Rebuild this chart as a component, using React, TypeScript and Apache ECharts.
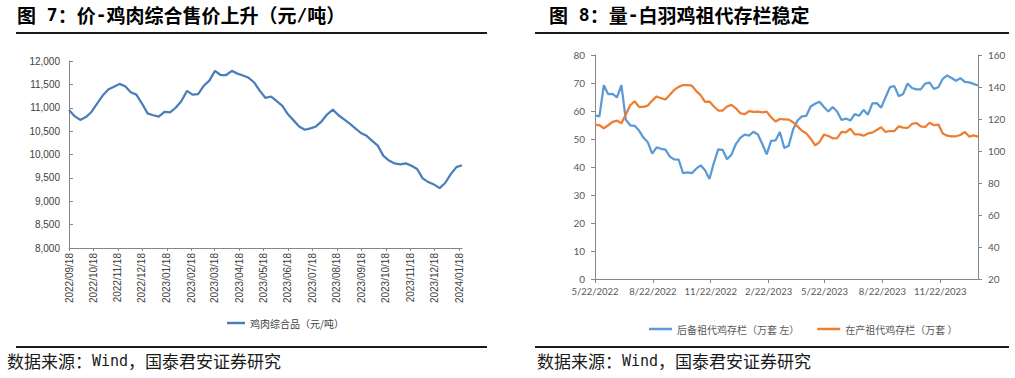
import React, { useEffect, useRef } from "react";
import * as echarts from "echarts";

// ---------- Data ----------
const chickenStart = "2022-09-18"; // weekly series
const chickenPrice = [
  10950, 10820, 10740, 10800, 10910, 11090, 11260, 11390, 11450, 11510,
  11460, 11330, 11280, 11090, 10880, 10840, 10810, 10910, 10900, 11000,
  11140, 11360, 11280, 11290, 11470, 11580, 11790, 11700, 11700, 11790,
  11730, 11690, 11640, 11540, 11360, 11210, 11240, 11140, 11040, 10860,
  10730, 10600, 10530, 10560, 10600, 10710, 10860, 10960, 10840, 10750,
  10660, 10560, 10460, 10400, 10290, 10190, 9970, 9870, 9810, 9790,
  9810, 9760, 9690, 9490, 9410, 9360, 9280, 9390, 9580, 9730,
  9770,
];
const chickenTicks = [
  "2022-09-18", "2022-10-18", "2022-11-18", "2022-12-18", "2023-01-18",
  "2023-02-18", "2023-03-18", "2023-04-18", "2023-05-18", "2023-06-18",
  "2023-07-18", "2023-08-18", "2023-09-18", "2023-10-18", "2023-11-18",
  "2023-12-18", "2024-01-18",
];
const chickenName = "鸡肉综合品（元/吨）";

const gpStart = "2022-05-22"; // weekly series
const reserveStock = [
  58.4, 58.1, 69.2, 66.0, 66.1, 64.9, 69.2, 56.9, 54.9, 54.7,
  53.0, 50.5, 48.8, 44.8, 47.0, 46.5, 46.2, 43.7, 42.7, 42.6,
  37.8, 38.1, 37.8, 39.4, 40.6, 38.8, 35.7, 41.5, 46.3, 46.1,
  42.8, 44.4, 48.2, 50.4, 51.6, 51.2, 52.6, 51.6, 48.2, 44.5,
  49.3, 49.5, 52.5, 46.8, 47.6, 53.4, 56.6, 58.1, 58.3, 61.6,
  62.6, 63.3, 61.4, 59.8, 61.4, 59.8, 56.8, 57.3, 56.6, 58.9,
  58.3, 60.4, 58.7, 62.7, 62.8, 61.2, 64.9, 68.5, 68.9, 65.3,
  66.1, 69.8, 68.2, 67.7, 67.7, 69.8, 70.1, 67.9, 68.5, 71.5,
  72.7, 71.8, 70.8, 71.7, 70.4, 70.2, 69.7, 69.1,
];
const productiveStock = [
  116.3, 116.1, 114.2, 116.1, 118.2, 119.0, 117.3, 122.8, 128.6, 131.1,
  127.6, 127.6, 128.4, 131.5, 134.1, 133.0, 132.2, 135.1, 138.2, 140.1,
  141.2, 141.2, 140.8, 137.4, 134.9, 130.7, 130.9, 127.8, 125.3, 125.3,
  127.8, 128.8, 126.7, 123.6, 123.0, 124.9, 124.4, 124.6, 124.2, 124.6,
  121.1, 118.4, 120.0, 119.8, 119.6, 118.0, 115.4, 112.7, 111.0, 107.7,
  103.5, 105.6, 110.2, 109.4, 107.9, 108.1, 111.9, 111.7, 114.0, 110.4,
  110.4, 109.6, 111.0, 111.5, 113.1, 114.8, 111.9, 112.5, 112.5, 115.4,
  114.6, 114.4, 116.9, 117.5, 115.4, 115.0, 117.7, 116.1, 116.5, 111.0,
  109.6, 109.2, 109.2, 110.0, 111.9, 109.0, 109.8, 109.0,
];
const gpTicks = [
  "2022-05-22", "2022-08-22", "2022-11-22", "2023-02-22",
  "2023-05-22", "2023-08-22", "2023-11-22",
];
const reserveName = "后备祖代鸡存栏（万套 左）";
const productiveName = "在产祖代鸡存栏（万套 ）";

// ---------- Helpers ----------
const DAY = 86400000;
function toTs(s: string): number {
  const [y, m, d] = s.split("-").map(Number);
  return new Date(y, m - 1, d).getTime();
}
function weekly(start: string, values: number[]): [number, number][] {
  const t0 = toTs(start);
  return values.map((v, i) => [t0 + i * 7 * DAY, v]);
}
const pad = (n: number) => (n < 10 ? "0" + n : "" + n);

export default function App() {
  const ref = useRef<HTMLDivElement>(null);
  useEffect(() => {
    if (!ref.current) return;
    const chart = echarts.init(ref.current, undefined, { renderer: "svg" });
    const chickenData = weekly(chickenStart, chickenPrice);
    const reserveData = weekly(gpStart, reserveStock);
    const productiveData = weekly(gpStart, productiveStock);
    const leftFont = "Liberation Sans";
    const rightFont = "Lato";
    const cjk = "Noto Sans CJK SC";

    const footerStyle = {
      text: "数据来源：{m|Wind}，国泰君安证券研究",
      fontSize: 17,
      fontFamily: cjk,
      fill: "#1a1a1a",
      rich: { m: { fontSize: 15, fontFamily: "DejaVu Sans Mono", fill: "#1a1a1a" } },
    };
    const titleRich = {
      m: { fontSize: 18, fontFamily: "DejaVu Sans Mono", fontWeight: "bold", fill: "#000" },
    };

    const option: any = {
      animation: false,
      backgroundColor: "#ffffff",
      grid: [
        { left: 69, right: 1015 - 462, top: 61, bottom: 378 - 248 },
        { left: 595, right: 1015 - 978, top: 55, bottom: 378 - 279 },
      ],
      legend: [
        {
          data: [chickenName],
          left: 222,
          top: 313,
          icon: "rect",
          itemWidth: 18,
          itemHeight: 2.5,
          textStyle: { fontSize: 10, color: "#404040", fontFamily: cjk },
        },
        {
          data: [reserveName, productiveName],
          left: 644,
          top: 319,
          icon: "rect",
          itemWidth: 23,
          itemHeight: 2.5,
          itemGap: 18,
          textStyle: { fontSize: 10, color: "#595959", fontFamily: cjk },
        },
      ],
      xAxis: [
        {
          type: "value",
          gridIndex: 0,
          min: toTs(chickenStart),
          max: chickenData[chickenData.length - 1][0],
          splitLine: { show: false },
          axisLine: { lineStyle: { color: "#868686", width: 1 } },
          axisTick: {
            show: true,
            length: 3,
            customValues: chickenTicks.map(toTs),
            lineStyle: { color: "#868686" },
          },
          axisLabel: {
            customValues: chickenTicks.map(toTs),
            rotate: 90,
            margin: 5,
            fontSize: 10,
            color: "#404040",
            fontFamily: leftFont,
            formatter: (v: number) => {
              const d = new Date(v);
              return `${d.getFullYear()}/${pad(d.getMonth() + 1)}/${pad(d.getDate())}`;
            },
          },
        },
        {
          type: "value",
          gridIndex: 1,
          min: toTs(gpStart),
          max: reserveData[reserveData.length - 1][0],
          splitLine: { show: false },
          axisLine: { lineStyle: { color: "#868686", width: 1 } },
          axisTick: {
            show: true,
            length: 4,
            customValues: gpTicks.map(toTs),
            lineStyle: { color: "#868686" },
          },
          axisLabel: {
            customValues: gpTicks.map(toTs),
            margin: 7,
            fontSize: 9.5,
            color: "#595959",
            fontFamily: rightFont,
            formatter: (v: number) => {
              const d = new Date(v);
              return `${d.getMonth() + 1}/${d.getDate()}/${d.getFullYear()}`;
            },
          },
        },
      ],
      yAxis: [
        {
          type: "value",
          gridIndex: 0,
          min: 8000,
          max: 12000,
          interval: 500,
          splitLine: { show: false },
          axisLine: { show: true, lineStyle: { color: "#868686", width: 1 } },
          axisTick: { show: true, inside: true, length: 4, lineStyle: { color: "#868686" } },
          axisLabel: {
            margin: 9,
            fontSize: 10,
            color: "#404040",
            fontFamily: leftFont,
            formatter: (v: number) => v.toLocaleString("en-US"),
          },
        },
        {
          type: "value",
          gridIndex: 1,
          min: 0,
          max: 80,
          interval: 10,
          splitLine: { show: false },
          axisLine: { show: true, lineStyle: { color: "#868686", width: 1 } },
          axisTick: { show: true, length: 4, lineStyle: { color: "#868686" } },
          axisLabel: { margin: 10, fontSize: 10, color: "#595959", fontFamily: rightFont },
        },
        {
          type: "value",
          gridIndex: 1,
          position: "right",
          min: 20,
          max: 160,
          interval: 20,
          splitLine: { show: false },
          axisLine: { show: true, lineStyle: { color: "#868686", width: 1 } },
          axisTick: { show: true, length: 4, lineStyle: { color: "#868686" } },
          axisLabel: { margin: 10, fontSize: 10, color: "#595959", fontFamily: rightFont },
        },
      ],
      series: [
        {
          name: chickenName,
          type: "line",
          xAxisIndex: 0,
          yAxisIndex: 0,
          data: chickenData,
          showSymbol: false,
          color: "#4A7EBB",
          lineStyle: { width: 2.25, color: "#4A7EBB" },
        },
        {
          name: reserveName,
          type: "line",
          xAxisIndex: 1,
          yAxisIndex: 1,
          data: reserveData,
          showSymbol: false,
          color: "#5B9BD5",
          lineStyle: { width: 2.25, color: "#5B9BD5" },
        },
        {
          name: productiveName,
          type: "line",
          xAxisIndex: 1,
          yAxisIndex: 2,
          data: productiveData,
          showSymbol: false,
          color: "#ED7D31",
          lineStyle: { width: 2.25, color: "#ED7D31" },
        },
      ],
      graphic: [
        {
          type: "text",
          left: 17,
          top: 5,
          style: {
            text: "图{m| 7}：价{m|-}鸡肉综合售价上升（元{m|/}吨）",
            fontSize: 19,
            fontWeight: "bold",
            fontFamily: cjk,
            fill: "#000",
            rich: titleRich,
          },
        },
        { type: "rect", shape: { x: 16, y: 32, width: 471, height: 2 }, style: { fill: "#1a1a1a" } },
        { type: "rect", shape: { x: 16, y: 346, width: 471, height: 2 }, style: { fill: "#1a1a1a" } },
        { type: "text", left: 7, top: 352, style: footerStyle },
        {
          type: "text",
          left: 549,
          top: 5,
          style: {
            text: "图{m| 8}：量{m|-}白羽鸡祖代存栏稳定",
            fontSize: 19,
            fontWeight: "bold",
            fontFamily: cjk,
            fill: "#000",
            rich: titleRich,
          },
        },
        { type: "rect", shape: { x: 535, y: 32, width: 474, height: 2 }, style: { fill: "#1a1a1a" } },
        { type: "rect", shape: { x: 535, y: 346, width: 474, height: 2 }, style: { fill: "#1a1a1a" } },
        { type: "text", left: 537, top: 352, style: footerStyle },
      ],
    };
    chart.setOption(option);
    return () => chart.dispose();
  }, []);

  return (
    <div
      ref={ref}
      style={{ position: "fixed", left: 0, top: 0, width: 1015, height: 378, background: "#fff" }}
    />
  );
}
